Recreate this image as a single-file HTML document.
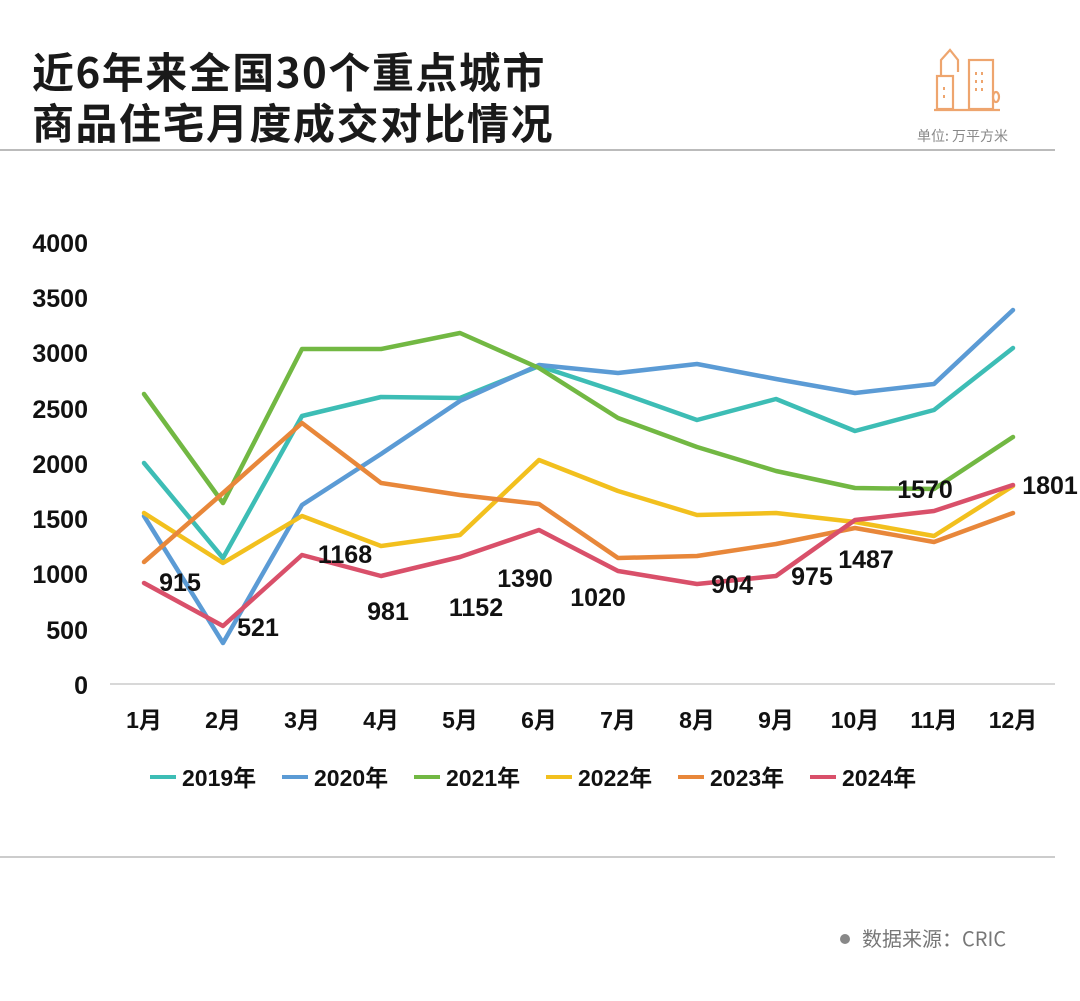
<!DOCTYPE html>
<html><head><meta charset="utf-8"><style>
body{margin:0;width:1080px;height:996px;background:#fff;overflow:hidden;font-family:"Liberation Sans","Noto Sans CJK SC",sans-serif}
</style></head><body>
<svg width="1080" height="996" viewBox="0 0 1080 996" xmlns="http://www.w3.org/2000/svg" font-family="Liberation Sans, Noto Sans CJK SC, sans-serif">
<text x="32" y="88" font-size="42" font-weight="bold" letter-spacing="1.5" fill="#1a1a1a" font-family="Noto Sans CJK SC, sans-serif">近6年来全国30个重点城市</text>
<text x="32" y="139" font-size="42" font-weight="bold" letter-spacing="1.5" fill="#1a1a1a" font-family="Noto Sans CJK SC, sans-serif">商品住宅月度成交对比情况</text>
<line x1="0" y1="150" x2="1055" y2="150" stroke="#bbb" stroke-width="2"/>
<g fill="none" stroke="#eea56e" stroke-width="2.2">
<rect x="937" y="76" width="16" height="33"/>
<path d="M941 76 V60 L950 50 L958 60 V72"/>
<rect x="969" y="60" width="24" height="49"/>
<line x1="934" y1="110" x2="1000" y2="110"/>
<ellipse cx="996" cy="97" rx="3" ry="5"/>
</g>
<g fill="#eea56e"><rect x="943" y="87" width="2" height="3"/><rect x="943" y="95" width="2" height="3"/><rect x="975" y="72" width="2" height="3"/><rect x="981" y="72" width="2" height="3"/><rect x="975" y="80" width="2" height="3"/><rect x="981" y="80" width="2" height="3"/><rect x="975" y="88" width="2" height="3"/><rect x="981" y="88" width="2" height="3"/></g>
<text x="917" y="141" font-size="14" fill="#888" font-family="Noto Sans CJK SC, sans-serif">单位: 万平方米</text>
<line x1="110" y1="684" x2="1055" y2="684" stroke="#ccc" stroke-width="1.5"/>
<g font-size="25" font-weight="bold" fill="#111" text-anchor="end">
<text x="88" y="252">4000</text><text x="88" y="307">3500</text><text x="88" y="362">3000</text><text x="88" y="418">2500</text><text x="88" y="473">2000</text><text x="88" y="528">1500</text><text x="88" y="583">1000</text><text x="88" y="639">500</text><text x="88" y="694">0</text>
</g>
<g font-size="23" font-weight="bold" fill="#111" text-anchor="middle" font-family="Liberation Sans, Noto Sans CJK SC, sans-serif">
<text x="144" y="728">1月</text><text x="223" y="728">2月</text><text x="302" y="728">3月</text><text x="381" y="728">4月</text><text x="460" y="728">5月</text><text x="539" y="728">6月</text><text x="618" y="728">7月</text><text x="697" y="728">8月</text><text x="776" y="728">9月</text><text x="855" y="728">10月</text><text x="934" y="728">11月</text><text x="1013" y="728">12月</text>
</g>
<g fill="none" stroke-width="4.5" stroke-linejoin="round" stroke-linecap="round">
<polyline stroke="#3dbdb5" points="144,463 223,558 302,416 381,397 460,398 539,366 618,392 697,420 776,399 855,431 934,410 1013,348"/>
<polyline stroke="#5b9bd5" points="144,516 223,643 302,505 381,454 460,401 539,365 618,373 697,364 776,379 855,393 934,384 1013,310"/>
<polyline stroke="#72b843" points="144,394 223,503 302,349 381,349 460,333 539,368 618,418 697,447 776,471 855,488 934,489 1013,437"/>
<polyline stroke="#f2c01e" points="144,513 223,563 302,516 381,546 460,535 539,460 618,491 697,515 776,513 855,522 934,536 1013,486"/>
<polyline stroke="#e8873a" points="144,562 223,493 302,423 381,483 460,495 539,504 618,558 697,556 776,544 855,528 934,542 1013,513"/>
<polyline stroke="#d9506a" points="144,583 223,626 302,555 381,576 460,557 539,530 618,571 697,584 776,576 855,520 934,511 1013,485"/>
</g>
<g font-size="25" font-weight="bold" fill="#111" text-anchor="middle">
<text x="180" y="591">915</text><text x="258" y="636">521</text><text x="345" y="563">1168</text><text x="388" y="620">981</text><text x="476" y="616">1152</text><text x="525" y="587">1390</text><text x="598" y="606">1020</text><text x="732" y="593">904</text><text x="812" y="585">975</text><text x="866" y="568">1487</text><text x="925" y="498">1570</text><text x="1050" y="494">1801</text>
</g>
<g font-size="23" font-weight="bold" fill="#111" font-family="Liberation Sans, Noto Sans CJK SC, sans-serif">
<line x1="150" y1="777" x2="176" y2="777" stroke="#3dbdb5" stroke-width="4"/><text x="182" y="786">2019年</text>
<line x1="282" y1="777" x2="308" y2="777" stroke="#5b9bd5" stroke-width="4"/><text x="314" y="786">2020年</text>
<line x1="414" y1="777" x2="440" y2="777" stroke="#72b843" stroke-width="4"/><text x="446" y="786">2021年</text>
<line x1="546" y1="777" x2="572" y2="777" stroke="#f2c01e" stroke-width="4"/><text x="578" y="786">2022年</text>
<line x1="678" y1="777" x2="704" y2="777" stroke="#e8873a" stroke-width="4"/><text x="710" y="786">2023年</text>
<line x1="810" y1="777" x2="836" y2="777" stroke="#d9506a" stroke-width="4"/><text x="842" y="786">2024年</text>
</g>
<line x1="0" y1="857" x2="1055" y2="857" stroke="#bbb" stroke-width="1.5"/>
<circle cx="845" cy="939" r="5" fill="#888"/>
<text x="862" y="946" font-size="20" fill="#777" font-family="Noto Sans CJK SC, sans-serif">数据来源：CRIC</text>
</svg>
</body></html>
